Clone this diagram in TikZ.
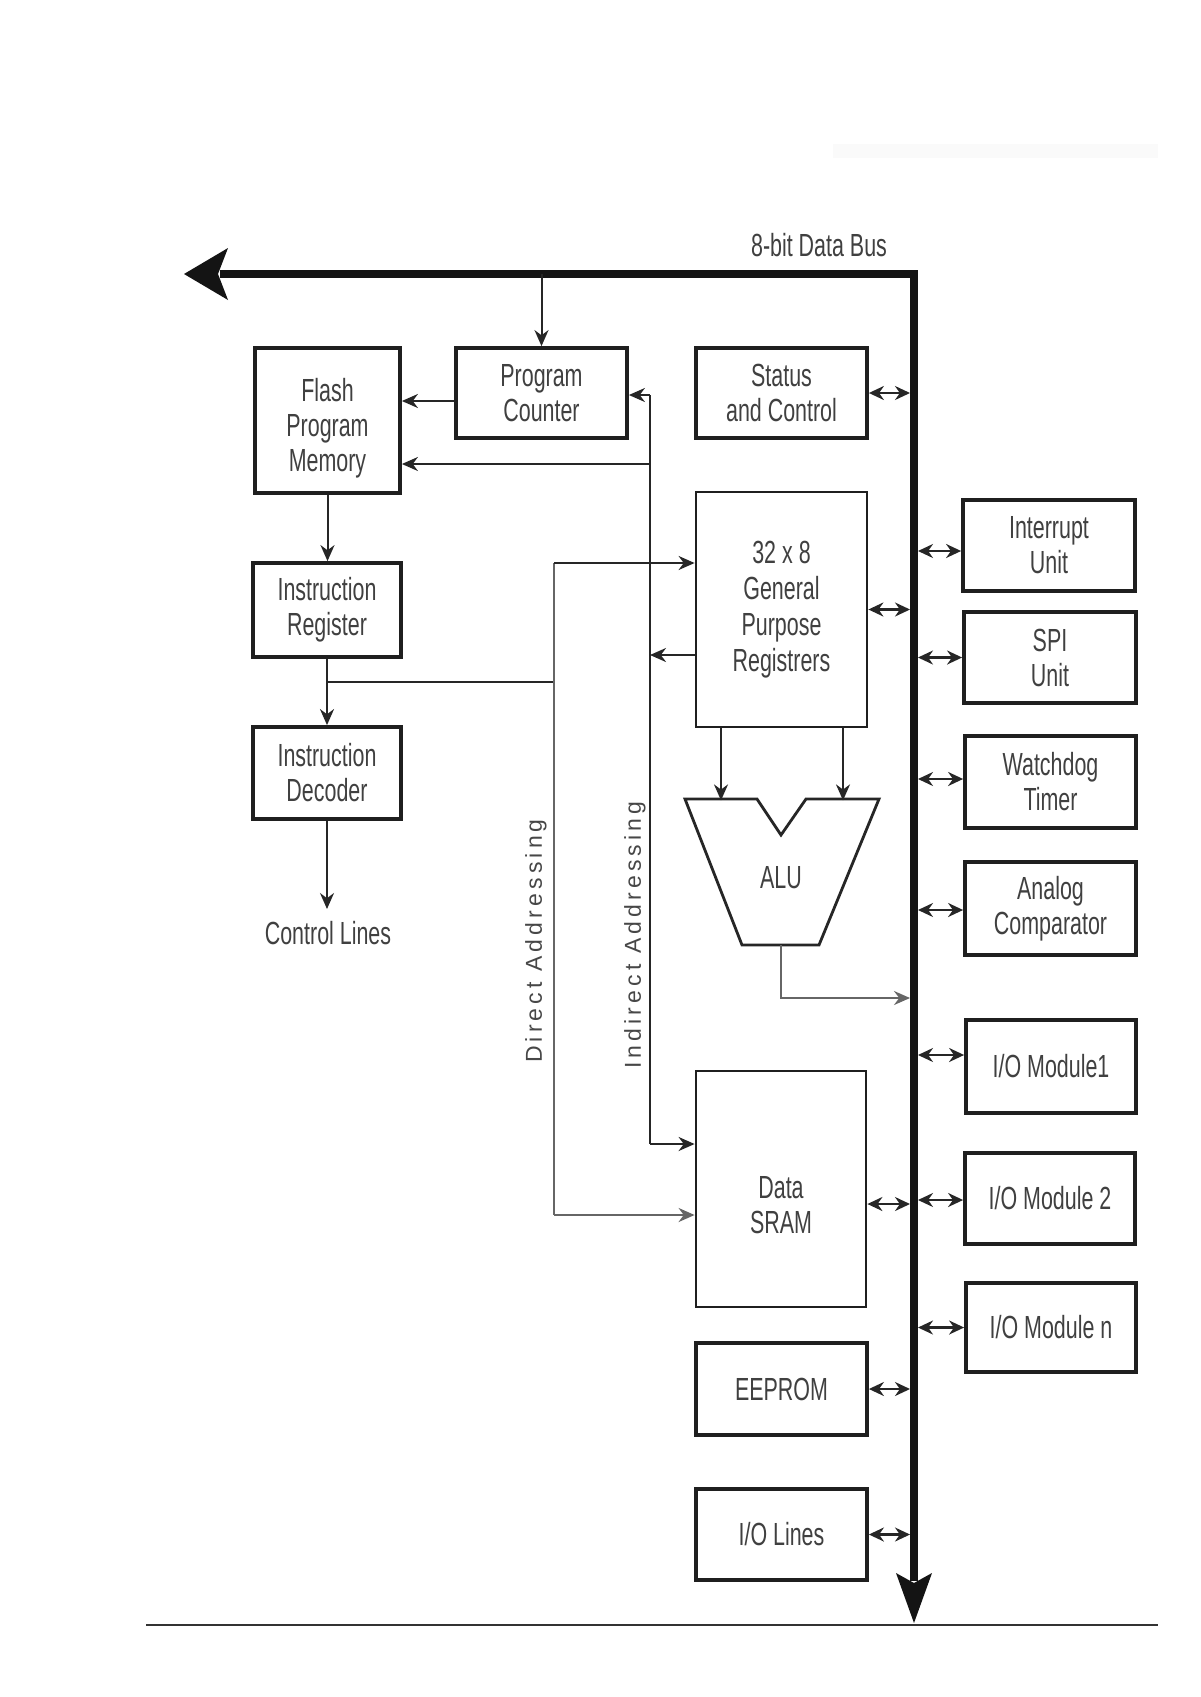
\documentclass[tikz,border=0pt]{standalone}
\usepackage{fontspec}
\setmainfont{Liberation Sans}[FakeStretch=0.67]
\newfontfamily\rotfont{Liberation Sans}[LetterSpace=18]
\usetikzlibrary{arrows.meta,calc}
\tikzset{
  box/.style={draw=black!88, line width=3.8pt, inner sep=0pt, align=center, text=black!75, font=\fontsize{32}{35}\selectfont},
  thinbox/.style={box, line width=2.8pt},
  conn/.style={draw=black!85, line width=2pt, -{Stealth[length=16pt,width=14pt]}},
  bi/.style={draw=black!85, line width=2.2pt, {Stealth[length=15pt,width=14pt]}-{Stealth[length=15pt,width=14pt]}},
  wire/.style={draw=black!85, line width=2pt},
  graywire/.style={draw=black!60, line width=2pt},
  lab/.style={text=black!75, font=\fontsize{32}{35}\selectfont, inner sep=0pt, align=center},
  rotlab/.style={text=black!72, font=\rotfont\fontsize{23}{28}\selectfont, inner sep=0pt, rotate=90},
  bus/.style={draw=black!92, line width=8pt, line join=miter},
}
\begin{document}
\begin{tikzpicture}[x=1pt,y=-1pt]
\useasboundingbox (0,0) rectangle (1200,1697);
\fill[white] (0,0) rectangle (1200,1697);
\fill[black!2] (833,144) rectangle (1158,158);

% boxes
\node[box, minimum width=145pt, minimum height=145pt] (flash) at (327.5,420.5) {};
\node[lab] (flashlab) at ($(flash.center)+(0,8)$) {Flash\\Program\\Memory};
\node[box, minimum width=171pt, minimum height=90pt] (pc) at (541.5,393) {Program\\Counter};
\node[box, minimum width=171pt, minimum height=90pt] (status) at (781.5,393) {Status\\and Control};
\node[thinbox, minimum width=171pt, minimum height=235pt, font=\fontsize{32}{36}\selectfont] (gpr) at (781.5,609.5) {32 x 8\\General\\Purpose\\Registrers};
\node[box, minimum width=148pt, minimum height=94pt] (ir) at (327,610) {Instruction\\Register};
\node[box, minimum width=148pt, minimum height=92pt] (id) at (327,773) {Instruction\\Decoder};
\node[lab] (ctl) at (328,933) {Control Lines};

\node[box, minimum width=172pt, minimum height=91pt] (int) at (1049,545.5) {Interrupt\\Unit};
\node[box, minimum width=172pt, minimum height=91pt] (spi) at (1050,657.5) {SPI\\Unit};
\node[box, minimum width=171pt, minimum height=92pt] (wd) at (1050.5,782) {Watchdog\\Timer};
\node[box, minimum width=171pt, minimum height=93pt] (ac) at (1050.5,908.5) {Analog\\Comparator};
\node[box, minimum width=170pt, minimum height=93pt] (io1) at (1051,1066.5) {I/O Module1};
\node[box, minimum width=170pt, minimum height=91pt] (io2) at (1050,1198.5) {I/O Module 2};
\node[box, minimum width=170pt, minimum height=89pt] (ion) at (1051,1327.5) {I/O Module n};

\node[thinbox, minimum width=170pt, minimum height=236pt] (sram) at (781,1189) {};
\node[lab] (sramlab) at ($(sram.center)+(0,16)$) {Data\\SRAM};
\node[box, minimum width=171pt, minimum height=92pt] (eeprom) at (781.5,1389) {EEPROM};
\node[box, minimum width=171pt, minimum height=91pt] (iol) at (781.5,1534.5) {I/O Lines};

% ALU
\draw[draw=black!85, line width=2.8pt, line join=miter] (685,799) -- (757,799) -- (781,835) -- (806,799) -- (879,799) -- (819,945) -- (742,945) -- cycle;
\node[lab] (alu) at (781,878) {ALU};

% data bus
\coordinate (busL) at (184,274);
\coordinate (busC) at (914,274);
\coordinate (busB) at (914,1623);
\coordinate (busE) at (910,0);
\coordinate (busR) at (918,0);
\draw[bus] ([xshift=36pt]busL) -- (busC) -- ([yshift=42pt]busB);
\fill[black!92] (busL) -- ++(44,-26) -- ++(-10,26) -- ++(10,26) -- cycle;
\fill[black!92] (busB) -- ++(-18,-50) -- ++(18,10) -- ++(18,-10) -- cycle;
\node[lab] (buslab) at (819,245) {8-bit Data Bus};

% bus to program counter
\coordinate (pcTap) at (pc.north |- busC);
\draw[conn] (pcTap) -- (pc.north);
% PC -> flash
\coordinate (pcOut) at ($(pc.west)+(0,8)$);
\draw[conn] (pcOut) -- (pcOut -| flash.east);

% indirect addressing
\coordinate (indT) at (650,395);
\coordinate (indF) at (650,464);
\coordinate (indG) at (650,655);
\coordinate (indB) at (650,1144);
\draw[wire] (indT) -- (indB);
\draw[conn] (indT) -- (indT -| pc.east);
\draw[conn] (indF) -- (indF -| flash.east);
\draw[conn] (indG -| gpr.west) -- (indG);
\draw[conn] (indB) -- (indB -| sram.west);
\node[rotlab] (indlab) at (635,935) {Indirect Addressing};

% flash / IR / ID chain
\draw[conn] (flash.south) -- (flash.south |- ir.north);
\draw[conn] (ir.south) -- (id.north);
\coordinate (ctlTop) at (id.south |- 0,909);
\draw[conn] (id.south) -- (ctlTop);

% direct addressing
\coordinate (irB) at (327,682);
\coordinate (dirB) at (554,682);
\coordinate (dirT) at (554,563);
\coordinate (dirS) at (554,1215);
\draw[wire] (irB) -- (dirB);
\draw[graywire] (dirT) -- (dirS);
\draw[conn] (dirT) -- (dirT -| gpr.west);
\draw[conn, draw=black!60] (dirS) -- (dirS -| sram.west);
\node[rotlab] (dirlab) at (536,941) {Direct Addressing};

% GPR -> ALU
\draw[conn] ($(gpr.south)+(-60.5,0)$) -- ++(0,72);
\draw[conn] ($(gpr.south)+(61.5,0)$) -- ++(0,72);
% ALU -> bus
\coordinate (aluB) at (781,945);
\coordinate (aluC) at (781,998);
\draw[conn, draw=black!60] (aluB) -- (aluC) -- (aluC -| busE);

% left-side bidirectional links
\draw[bi] (status.east) -- (status.east -| busE);
\draw[bi] (gpr.east) -- (gpr.east -| busE);
\coordinate (sramP) at ($(sram.east)+(0,15)$);
\draw[bi] (sramP) -- (sramP -| busE);
\draw[bi] (eeprom.east) -- (eeprom.east -| busE);
\draw[bi] (iol.east) -- (iol.east -| busE);

% right-side bidirectional links
\coordinate (intP) at ($(int.west)+(0,5.5)$);
\draw[bi] (intP -| busR) -- (intP);
\draw[bi] (spi.west -| busR) -- (spi.west);
\coordinate (wdP) at ($(wd.west)+(0,-3)$);
\draw[bi] (wdP -| busR) -- (wdP);
\coordinate (acP) at ($(ac.west)+(0,1.5)$);
\draw[bi] (acP -| busR) -- (acP);
\coordinate (io1P) at ($(io1.west)+(0,-11.5)$);
\draw[bi] (io1P -| busR) -- (io1P);
\coordinate (io2P) at ($(io2.west)+(0,1.5)$);
\draw[bi] (io2P -| busR) -- (io2P);
\draw[bi] (ion.west -| busR) -- (ion.west);

% bottom rule
\draw[black!80, line width=2pt] (146,1625) -- (1158,1625);
\end{tikzpicture}
\end{document}
